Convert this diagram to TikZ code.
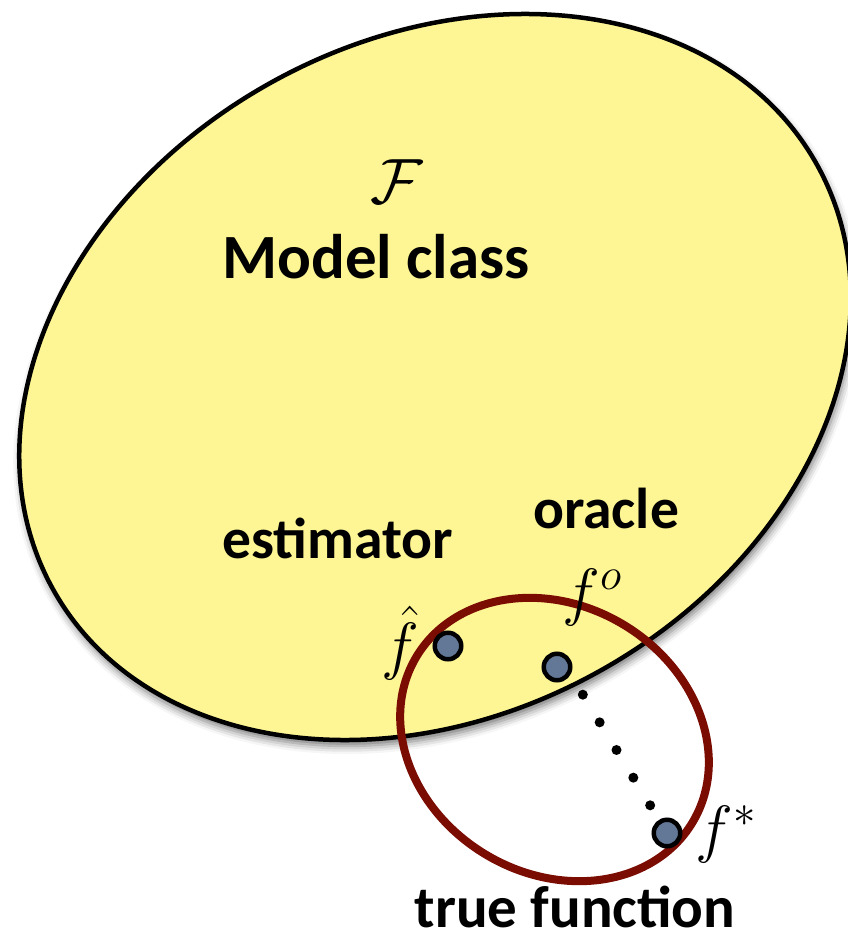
\RequirePackage{fix-cm}
\documentclass[tikz,border=0pt]{standalone}
\usepackage{fontspec}
\setmainfont{Carlito}
\usetikzlibrary{shadows.blur}
\definecolor{modelyellow}{RGB}{254,246,148}
\definecolor{truered}{RGB}{122,12,2}
\definecolor{dotblue}{RGB}{98,120,150}
\tikzset{
  bigtext/.style={font=\fontsize{63}{70}\selectfont\bfseries, inner sep=0pt, anchor=base},
  midtext/.style={font=\fontsize{57.6}{64}\selectfont\bfseries, inner sep=0pt, anchor=base},
  mathlabel/.style={font=\fontsize{64}{70}\selectfont, inner sep=0pt},
  fpoint/.style={circle, draw=black, line width=4.5pt, fill=dotblue, minimum size=26.5pt, inner sep=0pt},
  modelset/.style={fill=modelyellow, draw=black, line width=4.5pt,
    blur shadow={shadow xshift=2pt, shadow yshift=-6pt, shadow blur radius=8pt, shadow opacity=55}},
  trueset/.style={draw=truered, line width=8pt},
  gapdots/.style={draw=black, line width=10pt, line cap=round, dash pattern=on 0pt off 32.38pt},
}
\begin{document}
\begin{tikzpicture}[x=1pt,y=-1pt]
\useasboundingbox (0,0) rectangle (847,936);
% model class
\path[modelset, rotate around={29:(435,377)}] (435,377) ellipse [x radius=437, y radius=337];
% true function neighbourhood
\path[trueset, rotate around={-31:(554.5,739.5)}] (554.5,739.5) ellipse [x radius=161, y radius=134];
% points
\coordinate (fo) at (557,667);
\coordinate (fstar) at (667,833);
\draw[gapdots] ([xshift=9pt]fo) -- (fstar);
\node[fpoint] (fhatpt) at (448,646) {};
\node[fpoint] (fopt) at (fo) {};
\node[fpoint] (fstarpt) at (fstar) {};
% labels
\node[mathlabel] (F) at (397,182) {$\mathcal{F}$};
\node[bigtext] (model) at (376,278) {Model class};
\node[midtext] (est) at (338,558) {estimator};
\node[midtext] (orc) at (606,528) {oracle};
\node[bigtext, font=\fontsize{59}{66}\selectfont\bfseries] (truef) at (575,927) {true function};
\node[mathlabel] (fhatlab) at (400,643) {$\hat{f}$};
\node[mathlabel] (folab) at (592,597) {$f^{o}$};
\node[mathlabel] (fstarlab) at (726,834) {$f^{*}$};
\end{tikzpicture}
\end{document}
